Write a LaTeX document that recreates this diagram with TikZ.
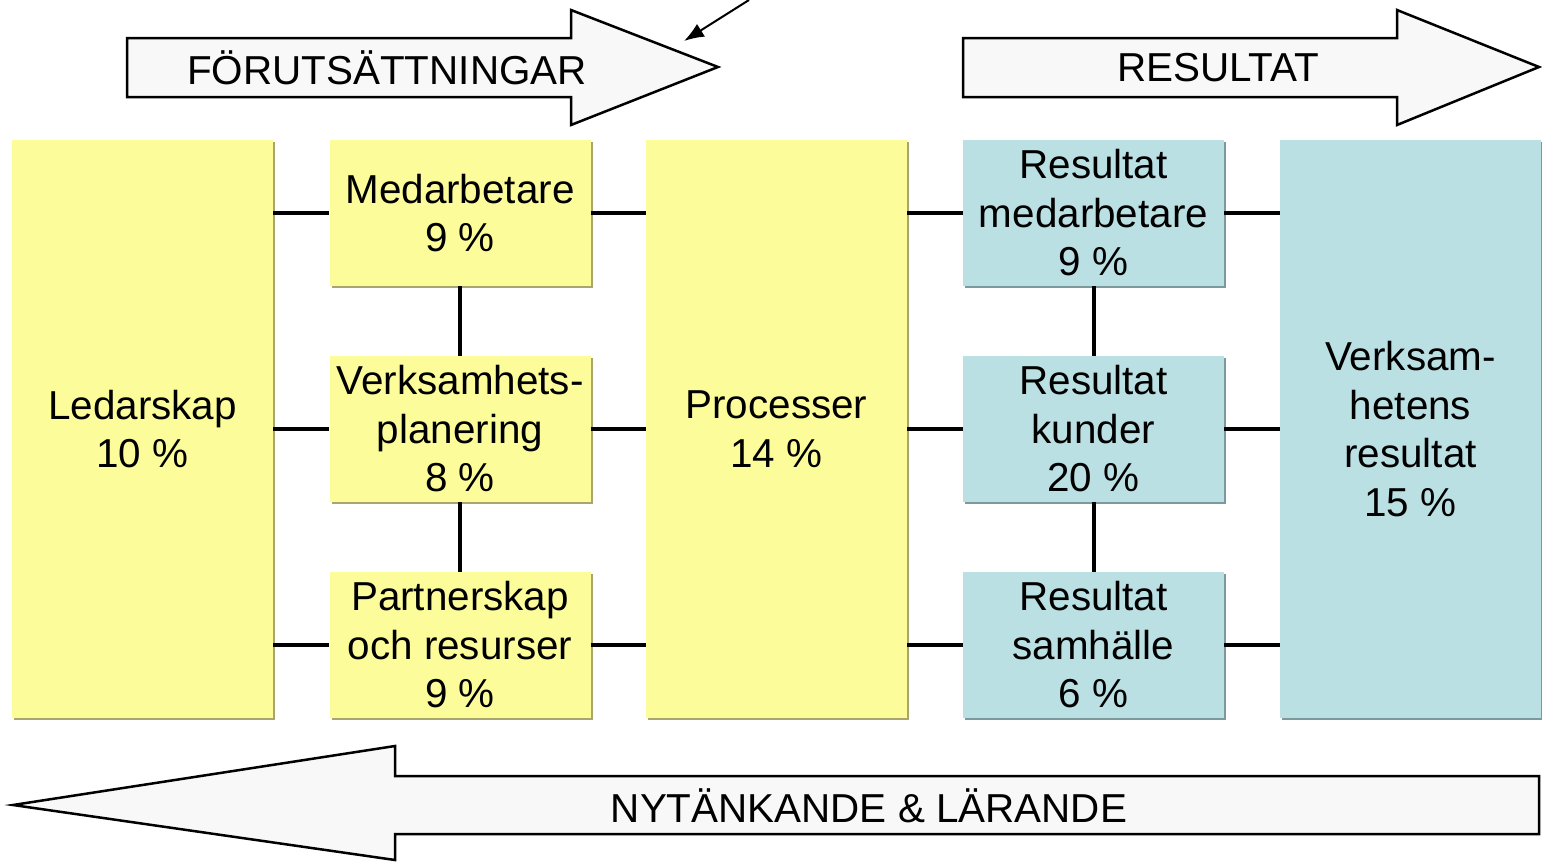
\documentclass[tikz,border=0pt]{standalone}
\usepackage{fontspec}
\setmainfont{Liberation Sans}
\usetikzlibrary{shadows,arrows.meta}
\definecolor{boxyellow}{HTML}{FCFC9A}
\definecolor{boxblue}{HTML}{BAE0E3}
\definecolor{shyellow}{HTML}{A9A66C}
\definecolor{shblue}{HTML}{7C9A9D}
\definecolor{arrowfill}{HTML}{F8F8F8}
\tikzset{
  box/.style={minimum width=261pt, align=center, inner sep=0pt,
    font=\fontsize{40.4}{48.5}\selectfont},
  smallbox/.style={box, minimum height=146pt},
  tallbox/.style={box, minimum height=578pt},
  ybox/.style={fill=boxyellow, drop shadow={shadow xshift=2pt, shadow yshift=-2pt, fill=shyellow, opacity=1}},
  bbox/.style={fill=boxblue, drop shadow={shadow xshift=2pt, shadow yshift=-2pt, fill=shblue, opacity=1}},
  conn/.style={line width=4pt},
  bigarrow/.style={draw=black, line width=2.5pt, fill=arrowfill, line join=miter},
  arrowtext/.style={font=\fontsize{40.4}{48}\selectfont, inner sep=0pt}
}
\begin{document}
\begin{tikzpicture}[x=1pt, y=-1pt]
\useasboundingbox (0,0) rectangle (1542,862);
% big arrows
\draw[bigarrow] (127,38) -- (571,38) -- (571,10) -- (718,67) -- (571,125) -- (571,97) -- (127,97) -- cycle;
\draw[bigarrow] (963,38) -- (1397,38) -- (1397,10) -- (1539,67) -- (1397,125) -- (1397,97) -- (963,97) -- cycle;
\draw[bigarrow] (13,805) -- (395,746) -- (395,776) -- (1539,776) -- (1539,834) -- (395,834) -- (395,860) -- cycle;
\node[arrowtext] (forut) at (387,68) {FÖRUTSÄTTNINGAR};
\node[arrowtext] (result) at (1218,68) {RESULTAT};
\node[arrowtext] (nytank) at (869,806) {NYTÄNKANDE \& LÄRANDE};
% pointer arrow
\coordinate (ptrstart) at (749,0);
\coordinate (ptrend) at (684,41);
\draw[line width=2pt, -{Latex[length=20pt,width=15pt]}] (ptrstart) -- (ptrend);
% boxes
\node[tallbox, ybox] (led) at (142.5,429) {Ledarskap\\10 \%};
\node[smallbox, ybox] (med) at (460,213) {Medarbetare\\9 \%};
\node[smallbox, ybox] (verk) at (460,429) {Verksamhets-\\planering\\8 \%};
\node[smallbox, ybox] (part) at (460,645) {Partnerskap\\och resurser\\9 \%};
\node[tallbox, ybox] (proc) at (776.5,429) {Processer\\14 \%};
\node[smallbox, bbox] (rmed) at (1093.5,213) {Resultat\\medarbetare\\9 \%};
\node[smallbox, bbox] (rkun) at (1093.5,429) {Resultat\\kunder\\20 \%};
\node[smallbox, bbox] (rsam) at (1093.5,645) {Resultat\\samhälle\\6 \%};
\node[tallbox, bbox] (vres) at (1410.5,429) {Verksam-\\hetens\\resultat\\15 \%};
% connectors
\foreach \b in {med,verk,part}{
  \draw[conn] (led.east |- \b.west) -- (\b.west);
  \draw[conn] (\b.east) -- (proc.west |- \b.east);
}
\foreach \b in {rmed,rkun,rsam}{
  \draw[conn] (proc.east |- \b.west) -- (\b.west);
  \draw[conn] (\b.east) -- (vres.west |- \b.east);
}
\draw[conn] (med.south) -- (verk.north);
\draw[conn] (verk.south) -- (part.north);
\draw[conn] (rmed.south) -- (rkun.north);
\draw[conn] (rkun.south) -- (rsam.north);
\end{tikzpicture}
\end{document}
